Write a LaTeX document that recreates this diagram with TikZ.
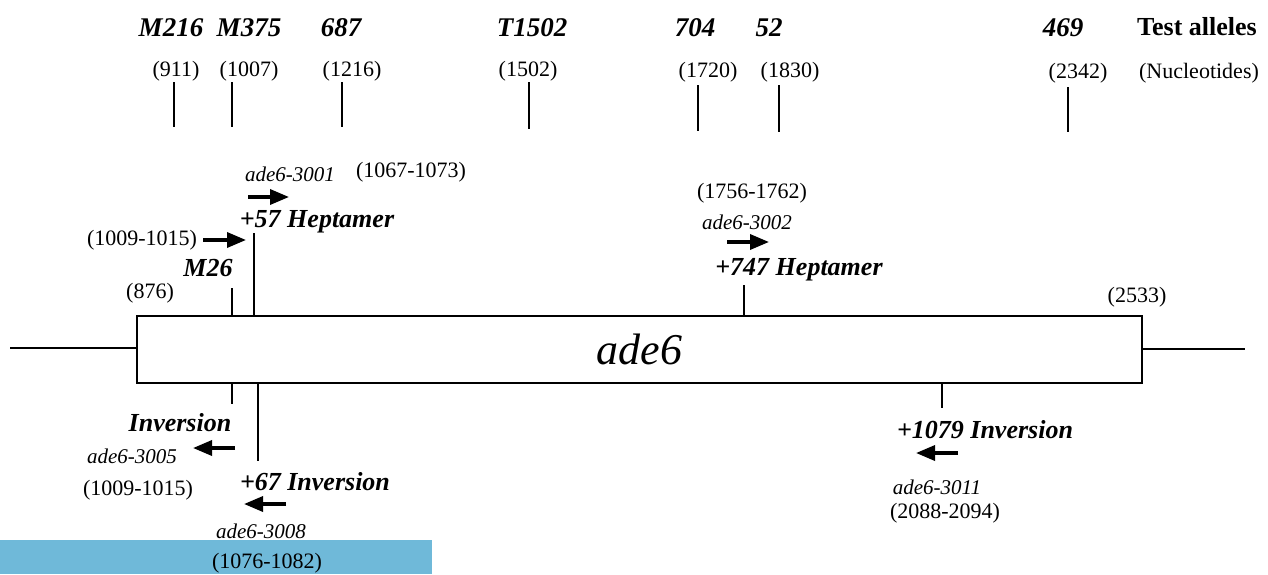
\documentclass[tikz,border=0pt]{standalone}
\usepackage{fontspec}
\setmainfont{Liberation Serif}
\usetikzlibrary{arrows.meta}
\definecolor{barblue}{HTML}{6FB9D9}
\begin{document}
\begin{tikzpicture}[x=1pt,y=-1pt,
  num/.style={font=\fontsize{22}{24}\selectfont, inner sep=0pt},
  lab/.style={font=\fontsize{26}{28}\selectfont\bfseries\itshape, inner sep=0pt},
  tlab/.style={font=\fontsize{27}{28}\selectfont\bfseries\itshape, inner sep=0pt},
  allele/.style={font=\fontsize{21}{22}\selectfont\itshape, inner sep=0pt},
  tick/.style={line width=2.4pt},
  arr/.style={line width=3.4pt, -{Triangle[length=19pt,width=15pt]}},
  gene/.style={draw, line width=2.8pt, minimum width=1005pt, minimum height=67pt, inner sep=0pt, font=\fontsize{44}{46}\selectfont\itshape}]
\useasboundingbox (0,0) rectangle (1268,574);
\fill[barblue] (0,540) rectangle (432,574);

% top test alleles
\node[tlab] (tM216) at (171,28) {M216};
\node[tlab] (tM375) at (249,28) {M375};
\node[tlab] (t687) at (341,28) {687};
\node[tlab] (tT1502) at (532,28) {T1502};
\node[tlab] (t704) at (695,28) {704};
\node[tlab] (t52) at (769,28) {52};
\node[tlab] (t469) at (1063,28) {469};
\node[font=\fontsize{26}{28}\selectfont\bfseries, inner sep=0pt] (ttest) at (1197,27) {Test alleles};

\node[num] (n911) at (176,71) {(911)};
\node[num] (n1007) at (249,71) {(1007)};
\node[num] (n1216) at (352,71) {(1216)};
\node[num] (n1502) at (528,71) {(1502)};
\node[num] (n1720) at (708,72) {(1720)};
\node[num] (n1830) at (790,72) {(1830)};
\node[num] (n2342) at (1078,73) {(2342)};
\node[num] (nnuc) at (1199,73) {(Nucleotides)};

\foreach \x/\a/\b [count=\i] in {174/82/127, 232/82/127, 342/82/127, 529/82/129, 698/85/131, 779/85/132, 1068/87/132}{
  \coordinate (ta\i) at (\x,\a);
  \coordinate (tb\i) at (\x,\b);
  \draw[tick] (ta\i) -- (tb\i);
}

% gene box
\node[gene] (box) at (639.5,349.5) {ade6};
\coordinate (lend) at (10,348);
\coordinate (rend) at (1245,349);
\draw[line width=2.2pt] (lend) -- (lend -| box.west);
\draw[line width=2.2pt] (rend -| box.east) -- (rend);
\node[num] (n876) at (150,293) {(876)};
\node[num] (n2533) at (1137,297) {(2533)};

% upper left
\node[lab] (m26) at (208,268) {M26};
\coordinate (m26t) at (232,288);
\draw[tick] (m26t) -- (m26t |- box.north);
\node[lab] (h57) at (317,222) {+57 Heptamer};
\coordinate (h57t) at (254,233);
\draw[tick] (h57t) -- (h57t |- box.north);
\node[num] (n1009a) at (142,240) {(1009-1015)};
\coordinate (a1s) at (203,240);
\coordinate (a1e) at (246,240);
\draw[arr] (a1s) -- (a1e);
\node[allele] (a3001) at (290,174) {ade6-3001};
\node[num] (n1067) at (411,172) {(1067-1073)};
\coordinate (a2s) at (248,197);
\coordinate (a2e) at (289,197);
\draw[arr] (a2s) -- (a2e);

% upper right
\node[num] (n1756) at (752,193) {(1756-1762)};
\node[allele] (a3002) at (747,222) {ade6-3002};
\coordinate (a3s) at (727,242);
\coordinate (a3e) at (769,242);
\draw[arr] (a3s) -- (a3e);
\node[lab] (h747) at (799,270) {+747 Heptamer};
\coordinate (h747t) at (744,285);
\draw[tick] (h747t) -- (h747t |- box.north);

% lower left
\coordinate (invt) at (232,404);
\draw[tick] (invt |- box.south) -- (invt);
\coordinate (i67t) at (258,461);
\draw[tick] (i67t |- box.south) -- (i67t);
\node[lab] (inv) at (180,423) {Inversion};
\coordinate (a4s) at (235,448);
\coordinate (a4e) at (193,448);
\draw[arr] (a4s) -- (a4e);
\node[allele] (a3005) at (132,456) {ade6-3005};
\node[num] (n1009b) at (138,490) {(1009-1015)};
\node[lab] (i67) at (315,482) {+67 Inversion};
\coordinate (a5s) at (286,504);
\coordinate (a5e) at (244,504);
\draw[arr] (a5s) -- (a5e);
\node[allele] (a3008) at (261,531) {ade6-3008};
\node[num] (n1076) at (267,563) {(1076-1082)};

% lower right
\coordinate (i1079t) at (942,408);
\draw[tick] (i1079t |- box.south) -- (i1079t);
\node[lab] (i1079) at (985,430) {+1079 Inversion};
\coordinate (a6s) at (958,453);
\coordinate (a6e) at (916,453);
\draw[arr] (a6s) -- (a6e);
\node[allele] (a3011) at (937,487) {ade6-3011};
\node[num] (n2088) at (945,513) {(2088-2094)};
\end{tikzpicture}
\end{document}
